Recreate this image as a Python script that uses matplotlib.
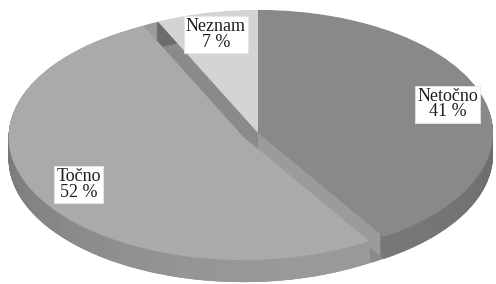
import matplotlib
matplotlib.use("Agg")
import matplotlib.pyplot as plt
import numpy as np
from matplotlib.patches import Wedge

# Data
names = ["Netočno", "Točno", "Neznam"]
shares = [41, 52, 7]
labels = [f"{n}\n{s} %" for n, s in zip(names, shares)]

top_colors = ["#898989", "#aaaaaa", "#d4d4d4"]
cut_colors = ["#9b9b9b", "#939393", "#8a8a8a"]
wall_grey = [0.47, 0.60, 0.62]
explode = [0, 0.07, 0]
label_dist = [0.84, 0.80, 0.82]
draw_order = [0, 2, 1]     # back to front

depth = 0.179
n_layers = 36

fig = plt.figure(figsize=(4.96, 2.84), dpi=100)
ax = fig.add_axes([0, 0, 1, 1])

wedges, texts = ax.pie(shares, labels=labels, startangle=90, counterclock=False,
                       explode=explode, colors=top_colors,
                       wedgeprops=dict(linewidth=0))

# squash the pie into an ellipse
ax.set_aspect("auto")
ax.set_xlim(-1.098, 1.013)
ax.set_ylim(-1.228, 1.081)
ax.axis("off")

# fill behind the exploded slice so the gap shows the neighbours' cut faces
tw = wedges[1]
tmid = (tw.theta1 + tw.theta2) / 2
for k in range(n_layers + 1):
    dz = depth * k / n_layers
    ax.add_patch(Wedge((0, -dz), 1, tmid, tw.theta2, facecolor=cut_colors[2],
                       linewidth=0, zorder=0.5))
    ax.add_patch(Wedge((0, -dz), 1, tw.theta1, tmid, facecolor=cut_colors[0],
                       linewidth=0, zorder=0.5))

for rank, i in enumerate(draw_order):
    w = wedges[i]
    cx, cy = w.center
    base = 1 + rank
    w.set_zorder(base + 0.6)
    # split the rim into small arcs so it can be shaded
    steps = np.linspace(w.theta1, w.theta2, max(2, int((w.theta2 - w.theta1) / 3) + 1))
    for k in range(n_layers, 0, -1):
        dz = depth * k / n_layers
        ax.add_patch(Wedge((cx, cy - dz), w.r, w.theta1, w.theta2,
                           facecolor=cut_colors[i], linewidth=0, zorder=base))
        for a0, a1 in zip(steps[:-1], steps[1:]):
            mid = np.radians((a0 + a1) / 2)
            g = wall_grey[i] * (0.84 + 0.16 * np.cos(mid - np.radians(290)))
            ax.add_patch(Wedge((cx, cy - dz), w.r, a0, a1 + 0.3, width=0.03,
                               facecolor=(g, g, g), linewidth=0, zorder=base + 0.3))

for w, t, d in zip(wedges, texts, label_dist):
    cx, cy = w.center
    mid = np.radians((w.theta1 + w.theta2) / 2)
    t.set_position((cx + d * np.cos(mid), cy + d * np.sin(mid)))
    t.set_ha("center")
    t.set_va("center")
    t.set_family("Liberation Serif")
    t.set_fontsize(13)
    t.set_color("#1e1e1e")
    t.set_linespacing(0.9)
    t.set_zorder(10)
    t.set_bbox(dict(facecolor="white", edgecolor="#e6e6e6", linewidth=0.6,
                    boxstyle="square,pad=0.12"))

fig.savefig("out.png", dpi=100)
